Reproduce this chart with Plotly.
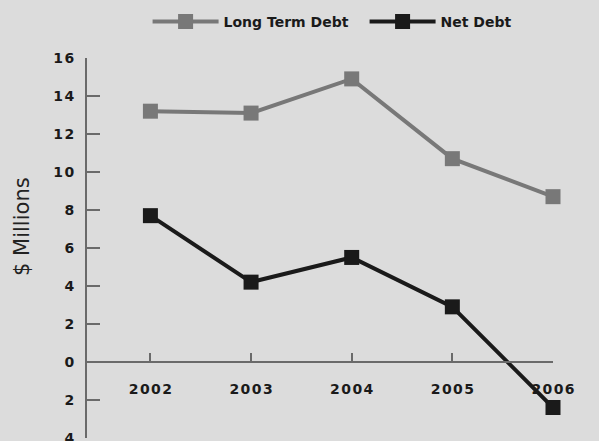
import plotly.graph_objects as go

# Fiscal years and debt balances ($ millions)
years = [2002, 2003, 2004, 2005, 2006]
long_term_debt = [13.2, 13.1, 14.9, 10.7, 8.7]
net_debt = [7.7, 4.2, 5.5, 2.9, -2.4]

y_ticks = [-4, -2, 0, 2, 4, 6, 8, 10, 12, 14, 16]

HAIR = "\u200a"


def spaced(s):
    # open up the digits a little, the way the tick labels are tracked
    return HAIR.join(str(s))


BG = "#dcdcdc"
AXIS = "#6a6a6a"
GRAY = "#787878"
BLACK = "#1a1a1a"
FAMILY = "DejaVu Sans"

fig = go.Figure()
fig.add_trace(go.Scatter(
    x=years, y=long_term_debt, name="Long Term Debt", mode="lines+markers",
    line=dict(color=GRAY, width=4),
    marker=dict(symbol="square", size=15, color=GRAY),
    cliponaxis=False,
))
fig.add_trace(go.Scatter(
    x=years, y=net_debt, name="Net Debt", mode="lines+markers",
    line=dict(color=BLACK, width=4),
    marker=dict(symbol="square", size=15, color=BLACK),
    cliponaxis=False,
))

fig.update_layout(
    width=599, height=441,
    margin=dict(l=87, r=46, t=58, b=3),
    paper_bgcolor=BG, plot_bgcolor=BG,
    font=dict(family=FAMILY, color=BLACK),
    showlegend=True,
    legend=dict(
        orientation="h", x=0.13, xanchor="left", y=1.095, yanchor="middle",
        bgcolor="rgba(0,0,0,0)", itemwidth=66,
        entrywidth=136, entrywidthmode="pixels",
        font=dict(family=FAMILY, size=14, weight="bold", color=BLACK),
    ),
    xaxis=dict(
        range=[2001.37, 2006],
        anchor="free", position=0.2, automargin=False,
        tickvals=years, ticktext=[spaced(y) for y in years],
        ticks="inside", ticklen=8, tickwidth=1.5, tickcolor=AXIS,
        showline=True, linecolor=AXIS, linewidth=2,
        showgrid=False, zeroline=False,
        ticklabelstandoff=14, ticklabeloverflow="allow",
        tickfont=dict(family=FAMILY, size=14, weight="bold", color=BLACK),
    ),
    yaxis=dict(
        range=[-4.005, 16], automargin=False,
        tickvals=y_ticks, ticktext=[spaced(abs(v)) for v in y_ticks],
        ticks="inside", ticklen=13, tickwidth=1.5, tickcolor=AXIS,
        showline=True, linecolor=AXIS, linewidth=2,
        showgrid=False, zeroline=False,
        ticklabelstandoff=8, ticklabeloverflow="allow",
        tickfont=dict(family=FAMILY, size=14, weight="bold", color=BLACK),
    ),
    annotations=[dict(
        text="$ Millions", textangle=-90, showarrow=False,
        xref="paper", yref="paper", x=-0.1395, y=0.558,
        xanchor="center", yanchor="middle",
        font=dict(family=FAMILY, size=21, color="#222222"),
    )],
)

fig.write_html("out.html")
